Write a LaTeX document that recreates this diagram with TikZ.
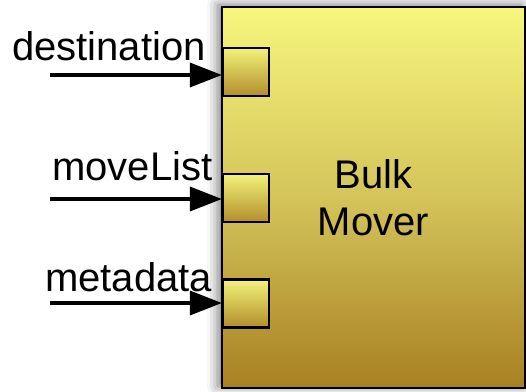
\documentclass[tikz,border=0pt]{standalone}
\usepackage{fontspec}
\setmainfont{Liberation Sans}
\usetikzlibrary{arrows.meta,shadows.blur}

\definecolor{boxtop}{RGB}{246,246,124}
\definecolor{boxmid}{RGB}{212,196,90}
\definecolor{boxbot}{RGB}{168,128,34}
\definecolor{porttop}{RGB}{242,242,122}
\definecolor{portbot}{RGB}{178,142,44}

\tikzset{
  block/.style={draw=black, line width=2pt, inner sep=0pt,
    top color=boxtop, bottom color=boxbot, middle color=boxmid,
    minimum width=303pt, minimum height=381pt, align=center,
    font=\fontsize{40}{47}\selectfont,
    blur shadow={shadow xshift=-4pt, shadow yshift=2pt,
      shadow blur radius=11pt, shadow opacity=55}},
  port/.style={draw=black, line width=2.2pt, inner sep=0pt,
    top color=porttop, bottom color=portbot,
    minimum width=46pt, minimum height=48pt},
  portlabel/.style={anchor=base west, inner sep=0pt,
    font=\fontsize{40}{47}\selectfont},
  inarrow/.style={line width=3.5pt, -{Triangle[length=32pt,width=24pt]}}
}

\begin{document}
\begin{tikzpicture}[x=1pt, y=-1pt]
  \useasboundingbox (0,0) rectangle (526,391);

  % main block
  \node[block] (mover) at (373.5,197.5) {Bulk\\Mover};

  % input ports on the left side
  \node[port] (p1) at (246,72) {};
  \node[port] (p2) at (246,198) {};
  \node[port] (p3) at (246,303.5) {};

  % port names
  \node[portlabel] (l1) at (12,60) {destination};
  \node[portlabel] (l2) at (52,180) {moveList};
  \node[portlabel] (l3) at (45,291) {metadata};

  % incoming signals
  \coordinate (s1) at (50,75);
  \coordinate (s2) at (50,199);
  \coordinate (s3) at (50,303);
  \draw[inarrow] (s1) -- (p1.west |- s1);
  \draw[inarrow] (s2) -- (p2.west |- s2);
  \draw[inarrow] (s3) -- (p3.west |- s3);
\end{tikzpicture}
\end{document}
